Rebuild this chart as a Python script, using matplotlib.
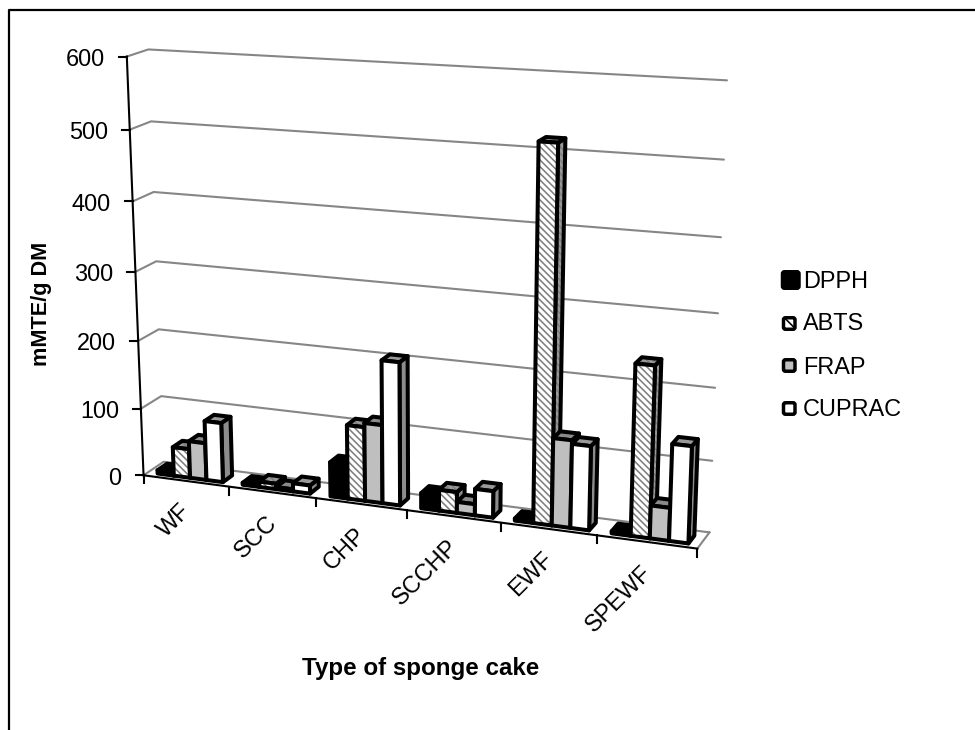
import numpy as np
import matplotlib
matplotlib.use("Agg")
import matplotlib.pyplot as plt
from matplotlib.patches import Polygon, FancyBboxPatch, Rectangle

plt.rcParams['font.family'] = ['Liberation Sans', 'DejaVu Sans']
plt.rcParams['hatch.linewidth'] = 1.15

categories = ['WF', 'SCC', 'CHP', 'SCCHP', 'EWF', 'SPEWF']
series_names = ['DPPH', 'ABTS', 'FRAP', 'CUPRAC']
dpph = [5, 3, 50, 22, 3, 3]
abts = [43, 8, 107, 30, 518, 237]
frap = [55, 3, 113, 16, 123, 46]
cuprac = [88, 12, 205, 38, 118, 134]
series_values = [dpph, abts, frap, cuprac]
y_ticks = [0, 100, 200, 300, 400, 500, 600]

# camera calibration: (category, depth, value) -> figure pixel
calib_world = [(0,0,0),(6,0,0),(0,1,0),(6,1,0),(0,0,600),(0,1,600),(6,1,600),
               (0,0,100),(0,1,100),(6,1,100),(6,1,500),(0,0,300),(0,1,300),(6,1,300)]
calib_px = [(143,476),(697,549),(165,462),(709,532),(127,57),(148,50),(727,81),
            (141,409),(161,396),(712,461),(724,159),(136,270),(155,261),(719,313)]
A = []
b = []
for (u, v, w), (x, y) in zip(calib_world, calib_px):
    A.append([u, v, w, 1, 0, 0, 0, 0, -x*u, -x*v, -x*w]); b.append(x)
    A.append([0, 0, 0, 0, u, v, w, 1, -y*u, -y*v, -y*w]); b.append(y)
P = np.linalg.lstsq(np.array(A, float), np.array(b, float), rcond=None)[0]
P = np.append(P, 1).reshape(3, 4)

def project(u, v, w):
    q = P @ np.array([u, v, w, 1.0])
    return q[0]/q[2], q[1]/q[2]

fig = plt.figure(figsize=(9.75, 7.3), dpi=100, facecolor='white')
ax = fig.add_axes([0, 0, 1, 1])
ax.set_xlim(0, 975)
ax.set_ylim(730, 0)
ax.axis('off')

GRID = '#868686'
ax.plot([9, 9, 980], [735, 10, 10], color='black', lw=1.6, zorder=1)

# walls and floor
for t in y_ticks:
    pts = [project(0,0,t), project(0,1,t), project(6,1,t)]
    ax.plot(*zip(*pts), color=GRID, lw=1.5, solid_capstyle='round', zorder=1)
pts = [project(6,1,0), project(6,0,0)]
ax.plot(*zip(*pts), color=GRID, lw=1.5, zorder=1)

# axes
ax.plot(*zip(project(0,0,0), project(0,0,600)), color='black', lw=1.5, zorder=2)
ax.plot(*zip(project(0,0,0), project(6,0,0)), color='black', lw=1.5, zorder=2)
for t in y_ticks:
    x, y = project(0,0,t)
    ax.plot([x-8, x], [y, y], color='black', lw=1.5, zorder=2)
    ax.text(x-22, y+3, str(t), ha='right', va='center', fontsize=16.9)
for i in range(7):
    x, y = project(i,0,0)
    ax.plot([x, x], [y, y+8], color='black', lw=1.5, zorder=2)
for i, c in enumerate(categories):
    x, y = project(i+0.5, 0, 0)
    ax.text(x-7, y+19, c, rotation=45, ha='right', va='top', rotation_mode='anchor', fontsize=16.9)

# bars
styles = [
    dict(front='black', top='black', side='black', hatch=False),
    dict(front='white', top='#999999', side='#999999', hatch=True),
    dict(front='#bfbfbf', top='#8a8a8a', side='#7a7a7a', hatch=False),
    dict(front='white', top='#999999', side='#8c8c8c', hatch=False),
]
V0, V1 = 0.22, 0.70
GAP = 0.115
BW = (1 - 2*GAP)/4
LW = 2.9
z = 5
def face(pts, fc, hatch=False):
    global z
    if hatch:
        ax.add_patch(Polygon(pts, closed=True, fc=fc, ec='#7f7f7f', lw=0, hatch='\\\\\\\\\\', zorder=z))
        z += 1
        ax.add_patch(Polygon(pts, closed=True, fc='none', ec='black', lw=LW, joinstyle='round', zorder=z))
    else:
        ax.add_patch(Polygon(pts, closed=True, fc=fc, ec='black', lw=LW, joinstyle='round', zorder=z))
    z += 1

for i in range(len(categories)):
    for s, vals in enumerate(series_values):
        val = vals[i]
        st = styles[s]
        u0 = i + GAP + s*BW
        u1 = u0 + BW
        face([project(u1,V0,0), project(u1,V1,0), project(u1,V1,val), project(u1,V0,val)], st['side'], st['hatch'])
        face([project(u0,V0,val), project(u1,V0,val), project(u1,V1,val), project(u0,V1,val)], st['top'], st['hatch'])
        face([project(u0,V0,0), project(u1,V0,0), project(u1,V0,val), project(u0,V0,val)], st['front'], st['hatch'])

# legend
key_y = [280, 323.5, 365.5, 408.5]
text_y = [281, 324, 367, 409]
key_size = [14.5, 9.5, 9.5, 9.5]
key_x = [783.5, 784.5, 784.5, 784.5]
for name, kx, ky, ty, st, ks in zip(series_names, key_x, key_y, text_y, styles, key_size):
    if st['hatch']:
        ax.add_patch(Rectangle((kx-1, ky-ks/2-1), ks+2, ks+2, fc='white', ec='black', lw=0, hatch='\\\\\\', zorder=3))
    k = FancyBboxPatch((kx, ky-ks/2), ks, ks, boxstyle='round,pad=1,rounding_size=2',
                       fc='none' if st['hatch'] else st['front'], ec='black', lw=2.5, zorder=4)
    ax.add_patch(k)
    ax.text(803, ty, name, ha='left', va='center', fontsize=16.9)

ax.text(421, 669, 'Type of sponge cake', ha='center', va='center', fontsize=17.4, fontweight='bold')
ax.text(41, 304, 'mMTE/g DM', ha='center', va='center', rotation=90, fontsize=15.6, fontweight='bold')

fig.savefig('out.png', dpi=100, facecolor='white')
